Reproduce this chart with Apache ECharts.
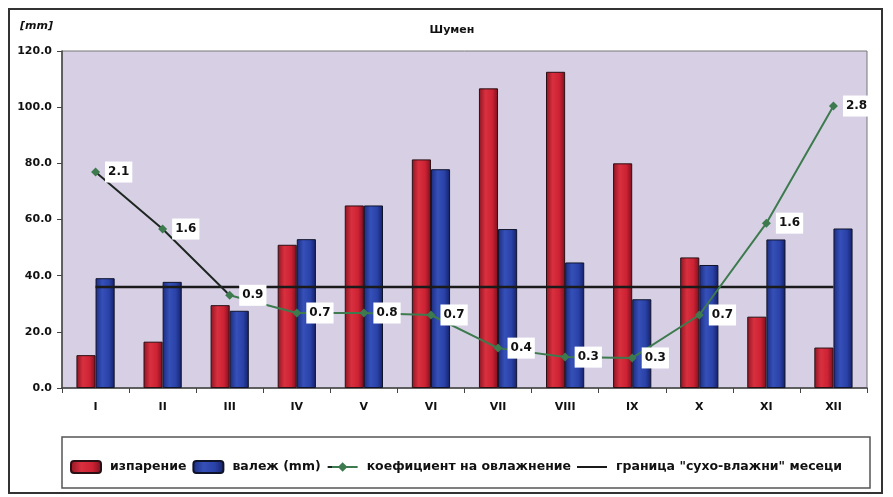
<!DOCTYPE html>
<html>
<head>
<meta charset="utf-8">
<script src="https://cdn.jsdelivr.net/npm/echarts@6/dist/echarts.min.js"></script>
<style>
	html, body { margin: 0; padding: 0; background: #ffffff; }
	#main { width: 893px; height: 497px; }
</style>
</head>
<body>
<div id="main"></div>
<script>
//месеци
var months = ['I', 'II', 'III', 'IV', 'V', 'VI', 'VII', 'VIII', 'IX', 'X', 'XI', 'XII'];
//изпарение (mm)
var isparenie = [11.7, 16.5, 29.5, 51, 65, 81.4, 106.7, 112.6, 80, 46.5, 25.4, 14.4];
//валеж (mm)
var valej = [39.1, 37.8, 27.5, 53, 65, 77.9, 56.6, 44.7, 31.6, 43.8, 52.9, 56.8];
//коефициент на овлажнение - положение на графиката и надписи
var koefPos = [76.9, 56.6, 33, 26.7, 26.7, 26, 14.2, 11, 10.7, 26, 58.7, 100.4];
var koefText = ['2.1', '1.6', '0.9', '0.7', '0.8', '0.7', '0.4', '0.3', '0.3', '0.7', '1.6', '2.8'];
//граница "сухо-влажни" месеци
var granica = [36, 36, 36, 36, 36, 36, 36, 36, 36, 36, 36, 36];
var yTicks = [0, 20, 40, 60, 80, 100, 120];

var fontName = 'DejaVu Sans';

var redFill = new echarts.graphic.LinearGradient(0, 0, 1, 0, [
	{offset: 0, color: '#8e1522'},
	{offset: 0.35, color: '#d9303f'},
	{offset: 0.7, color: '#cc2233'},
	{offset: 1, color: '#7a1020'}
]);
var blueFill = new echarts.graphic.LinearGradient(0, 0, 1, 0, [
	{offset: 0, color: '#1c2c80'},
	{offset: 0.35, color: '#3550b8'},
	{offset: 0.7, color: '#2a42a8'},
	{offset: 1, color: '#141f66'}
]);
// първите два сегмента на линията са тъмни
var koefLine = new echarts.graphic.LinearGradient(0, 0, 1, 0, [
	{offset: 0, color: '#1e2622'},
	{offset: 0.18, color: '#1e2622'},
	{offset: 0.182, color: '#3d7a4e'},
	{offset: 1, color: '#3d7a4e'}
]);

var option = {
	animation: false,
	backgroundColor: '#ffffff',
	textStyle: {
		fontFamily: fontName
	},
	title: {
		text: 'Шумен',
		left: 447,
		textAlign: 'center',
		top: 20,
		textStyle: {
			fontSize: 11,
			fontWeight: 'bold',
			color: '#111'
		}
	},
	graphic: [
		{
			type: 'rect',
			shape: {x: 9, y: 9, width: 873, height: 484},
			style: {fill: 'none', stroke: '#333', lineWidth: 2},
			silent: true,
			z: -1
		},
		{
			type: 'rect',
			shape: {x: 62, y: 437, width: 808, height: 51},
			style: {fill: '#ffffff', stroke: '#555', lineWidth: 1.5},
			silent: true,
			z: -1
		},
		{
			type: 'text',
			left: 20,
			top: 21,
			style: {
				text: '[mm]',
				font: 'italic bold 11px "DejaVu Sans"',
				fill: '#111'
			}
		}
	],
	legend: {
		left: 65,
		top: 455,
		itemWidth: 30,
		itemHeight: 12,
		itemGap: 6,
		textStyle: {
			fontSize: 12.5,
			fontWeight: 'bold',
			color: '#111',
			padding: [0, 0, 0, 4]
		},
		data: [
			'изпарение',
			'валеж (mm)',
			'коефициент на овлажнение',
			{name: 'граница "сухо-влажни" месеци', icon: 'path://M0,0 L30,0 L30,2 L0,2 Z', itemStyle: {color: '#1a1a1a'}}
		]
	},
	grid: {
		left: 62,
		right: 26,
		top: 51,
		bottom: 109,
		show: true,
		backgroundColor: '#d7d0e5',
		borderColor: '#777',
		borderWidth: 1
	},
	xAxis: {
		type: 'category',
		data: months,
		axisLine: {lineStyle: {color: '#444', width: 1.5}},
		axisTick: {show: true, length: 5, lineStyle: {color: '#444'}},
		axisLabel: {
			fontSize: 11,
			fontWeight: 'bold',
			color: '#111',
			margin: 14
		}
	},
	yAxis: {
		type: 'value',
		min: yTicks[0],
		max: yTicks[yTicks.length - 1],
		interval: 20,
		axisLine: {show: true, lineStyle: {color: '#444', width: 1.5}},
		axisTick: {show: true, length: 5, lineStyle: {color: '#444'}},
		splitLine: {show: false},
		axisLabel: {
			fontSize: 11,
			fontWeight: 'bold',
			color: '#111',
			margin: 10,
			formatter: function(v) {
				return v.toFixed(1);
			}
		}
	},
	series: [
		{
			name: 'изпарение',
			type: 'bar',
			data: isparenie,
			barGap: '0%',
			barCategoryGap: '43%',
			itemStyle: {
				color: redFill,
				borderColor: '#2a1015',
				borderWidth: 1
			}
		},
		{
			name: 'валеж (mm)',
			type: 'bar',
			data: valej,
			itemStyle: {
				color: blueFill,
				borderColor: '#10142a',
				borderWidth: 1
			}
		},
		{
			name: 'коефициент на овлажнение',
			type: 'line',
			data: koefPos,
			symbol: 'diamond',
			symbolSize: 9,
			z: 5,
			lineStyle: {color: koefLine, width: 2},
			itemStyle: {color: '#3d7a4e'},
			label: {
				show: true,
				position: 'right',
				distance: 5,
				fontSize: 12,
				fontWeight: 'bold',
				color: '#111',
				backgroundColor: '#ffffff',
				padding: [5, 3, 4, 3],
				formatter: function(p) {
					return koefText[p.dataIndex];
				}
			}
		},
		{
			name: 'граница "сухо-влажни" месеци',
			type: 'line',
			data: granica,
			symbol: 'none',
			z: 4,
			lineStyle: {color: '#1a1a1a', width: 2.5},
			itemStyle: {color: '#1a1a1a'}
		}
	]
};

var chart = echarts.init(document.getElementById('main'));
chart.setOption(option);
</script>
</body>
</html>
